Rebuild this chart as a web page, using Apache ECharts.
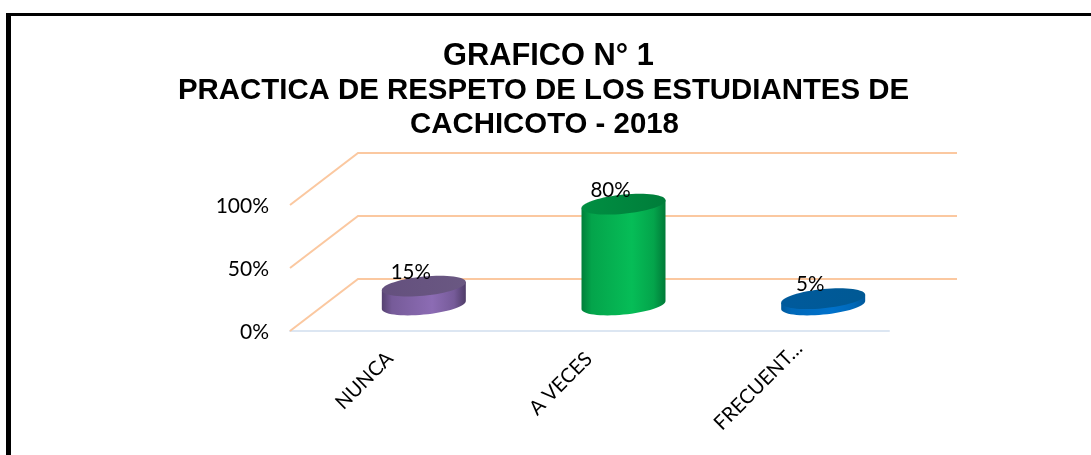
<!DOCTYPE html>
<html>
<head>
<meta charset="utf-8">
<title>Grafico 1</title>
<script src="https://cdn.jsdelivr.net/npm/echarts@6/dist/echarts.min.js"></script>
<style>
  html, body { margin: 0; padding: 0; background: #fff; }
  #main { width: 1091px; height: 455px; }
</style>
</head>
<body>
<div id="main"></div>
<script>
// data
var titleLines = ['GRAFICO N° 1', 'PRACTICA DE RESPETO DE LOS ESTUDIANTES DE', 'CACHICOTO - 2018'];
var categories = ['NUNCA', 'A VECES', 'FRECUENT…'];
var percentValues = [15, 80, 5];
var gridTicks = [0, 50, 100];

// one set of [edge, middle, top] colours per bar
var bodyColors = [
  ['#554170', '#8c6cb4', '#4f3c68'],
  ['#007f3a', '#06bd57', '#007a38'],
  ['#00589a', '#0072cc', '#00589a']
];
var capColors = [
  ['#64507e', '#6a5882'],
  ['#008f42', '#007d3a'],
  ['#005a9c', '#005994']
];

// nudges for the slanted labels, the original does not line them up evenly
var labelPadding = [
  [18, 0, 0, 0],
  [5, 1, 0, 0],
  [30, -14, 0, 0]
];

// 3d look: how far the back wall sits from the front axis
var depthX = 68;
var depthY = -52;
var barHalfWidth = 42;
var capHalfHeight = 9.6;
var capTilt = 4;

function capPoints(cx, cy) {
  var pts = [];
  for (var i = 0; i < 64; i++) {
    var t = i / 64 * Math.PI * 2;
    pts.push([
      cx + barHalfWidth * Math.cos(t),
      cy + capHalfHeight * Math.sin(t) - capTilt * Math.cos(t)
    ]);
  }
  return pts;
}

// half ring of the cap, left to right along the lower edge
function lowerEdge(cx, cy) {
  var pts = [];
  for (var i = 0; i <= 32; i++) {
    var t = Math.PI - i / 32 * Math.PI;
    pts.push([
      cx + barHalfWidth * Math.cos(t),
      cy + capHalfHeight * Math.sin(t) - capTilt * Math.cos(t)
    ]);
  }
  return pts;
}

function hGradient(c) {
  var mix = echarts.color.lerp(0.6, [c[0], c[1]]);
  return new echarts.graphic.LinearGradient(0, 0, 1, 0, [
    { offset: 0, color: c[0] },
    { offset: 0.12, color: mix },
    { offset: 0.6, color: c[1] },
    { offset: 0.86, color: mix },
    { offset: 1, color: c[2] }
  ]);
}

function renderWall(params, api) {
  var value = api.value(0);
  var sys = params.coordSys;
  var p = api.coord([0, value]);
  var y = p[1];
  var x0 = sys.x;
  return {
    type: 'polyline',
    shape: { points: [[x0, y], [x0 + depthX, y + depthY], [x0 + sys.width + depthX, y + depthY]] },
    style: { stroke: '#fbc8a0', lineWidth: 2, fill: null },
    silent: true
  };
}

function renderBar(params, api) {
  var idx = params.dataIndex;
  var cat = api.value(0);
  var val = api.value(1);
  var base = api.coord([cat, 0]);
  var top = api.coord([cat, val]);
  var cx = base[0] + depthX / 2;
  var baseY = base[1] + depthY / 2;
  var topY = top[1] + depthY / 2;

  // body is the bottom edge closed up to the cap's two side points
  var body = lowerEdge(cx, baseY);
  body.push([cx + barHalfWidth, topY - capTilt]);
  body.push([cx - barHalfWidth, topY + capTilt]);

  return {
    type: 'group',
    children: [
      {
        type: 'polygon',
        shape: { points: body },
        style: { fill: hGradient(bodyColors[idx]) }
      },
      {
        type: 'polygon',
        shape: { points: capPoints(cx, topY) },
        style: {
          fill: new echarts.graphic.LinearGradient(0, 0, 1, 0, [
            { offset: 0, color: capColors[idx][0] },
            { offset: 1, color: capColors[idx][1] }
          ])
        }
      },
      {
        type: 'text',
        style: {
          x: cx - 13,
          y: topY - 14,
          text: api.value(1) + '%',
          fill: '#000',
          font: '20.5px Lato, "Noto Sans", sans-serif',
          align: 'center',
          verticalAlign: 'middle'
        }
      }
    ]
  };
}

var chart = echarts.init(document.getElementById('main'), null, { renderer: 'canvas' });

var titleStyle = {
  fontFamily: '"Liberation Sans", Arial, sans-serif',
  fontWeight: 'bold',
  fontSize: 29.4,
  color: '#000'
};

chart.setOption({
  animation: false,
  backgroundColor: '#fff',
  title: [
    {
      text: titleLines[0], left: 443, top: 41, padding: 0,
      textStyle: { fontFamily: titleStyle.fontFamily, fontWeight: 'bold', fontSize: 30.8, color: '#000' }
    },
    { text: titleLines[1], left: 178, top: 76, padding: 0, textStyle: titleStyle },
    { text: titleLines[2], left: 410, top: 110, padding: 0, textStyle: titleStyle }
  ],
  graphic: [
    { type: 'rect', shape: { x: 6, y: 13, width: 5, height: 442 }, style: { fill: '#000' } },
    { type: 'rect', shape: { x: 6, y: 13, width: 1085, height: 3 }, style: { fill: '#000' } }
  ],
  grid: { left: 290, top: 205, width: 599, height: 126 },
  xAxis: {
    type: 'category',
    data: categories.map(function (c, i) {
      return { value: c, textStyle: { padding: labelPadding[i] } };
    }),
    axisLine: { lineStyle: { color: '#dce6f2', width: 2 } },
    axisTick: { show: false },
    axisLabel: {
      rotate: 45,
      margin: 24,
      fontFamily: 'Lato, "Noto Sans", sans-serif',
      fontSize: 20,
      color: '#000'
    }
  },
  yAxis: {
    type: 'value',
    min: 0,
    max: 100,
    interval: 50,
    axisLine: { show: false },
    axisTick: { show: false },
    splitLine: { show: false },
    axisLabel: {
      margin: 21,
      formatter: '{value}%',
      fontFamily: 'Lato, "Noto Sans", sans-serif',
      fontSize: 21,
      verticalAlign: 'top',
      lineHeight: 3,
      color: '#000'
    }
  },
  series: [
    {
      type: 'custom',
      name: 'pared',
      coordinateSystem: 'cartesian2d',
      renderItem: renderWall,
      data: gridTicks.map(function (t) { return [t]; }),
      encode: { y: 0 },
      clip: false,
      z: 1,
      silent: true
    },
    {
      type: 'custom',
      name: 'PRACTICA',
      coordinateSystem: 'cartesian2d',
      renderItem: renderBar,
      data: percentValues.map(function (v, i) { return [i, v]; }),
      encode: { x: 0, y: 1 },
      clip: false,
      z: 3
    }
  ]
});
</script>
</body>
</html>
